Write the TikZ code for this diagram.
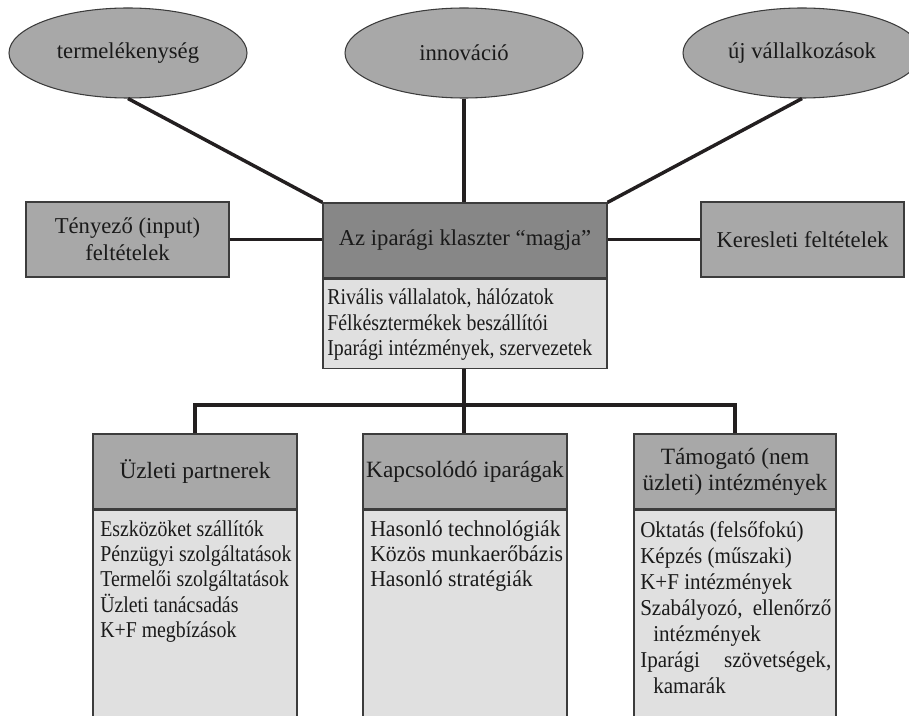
\documentclass[tikz,border=0pt]{standalone}
\usepackage{fontspec}
\setmainfont{Liberation Serif}
\newfontfamily\condA[FakeStretch=0.875]{Liberation Serif}
\newfontfamily\condB[FakeStretch=0.96]{Liberation Serif}
\newfontfamily\condC[FakeStretch=0.93]{Liberation Serif}
\usetikzlibrary{shapes.geometric}
\newlength\px
\setlength\px{0.75pt}
\definecolor{midgray}{HTML}{A8A8A8}
\definecolor{darkfill}{HTML}{878787}
\definecolor{lightfill}{HTML}{E0E0E0}
\definecolor{edge}{HTML}{3C3C3C}
\definecolor{ink}{HTML}{1A1A1A}
\definecolor{wirecol}{HTML}{231F20}
\tikzset{
  box/.style={draw=edge, line width=0.9pt, rectangle, inner sep=0pt, text=ink,
    font=\fontsize{17}{20}\selectfont, align=center},
  headbox/.style={box, fill=midgray, minimum width=204\px, minimum height=75\px,
    font=\fontsize{17.5}{19.5}\selectfont},
  bodybox/.style={box, fill=lightfill, minimum width=204\px, minimum height=240\px, anchor=north},
  bubble/.style={draw=edge, line width=0.8pt, ellipse, fill=midgray,
    minimum width=238\px, minimum height=90\px, inner sep=0pt, text=ink,
    font=\fontsize{17}{20}\selectfont},
  wire/.style={draw=wirecol, line width=2.6pt},
  list/.style={anchor=base west, inner sep=0pt, text=ink}
}
\begin{document}
\begin{tikzpicture}[x=0.75pt, y=-0.75pt]
\useasboundingbox (0,0) rectangle (909,716);
\clip (0,0) rectangle (909,716);

% outcomes
\node[bubble] (prod) at (128,53) {termelékenység};
\node[bubble] (inno) at (464,53) {innováció};
\node[bubble] (new)  at (802,53) {új vállalkozások};

% middle row
\node[box, fill=midgray, minimum width=203\px, minimum height=75\px] (factor) at (127.5,239.5)
  {Tényező (input)\\feltételek};
\node[box, fill=midgray, minimum width=203\px, minimum height=75\px] (demand) at (802.5,239.5)
  {Keresleti feltételek};
\node[box, fill=darkfill, minimum width=284\px, minimum height=75\px] (core) at (465,240.5)
  {Az iparági klaszter “magja”};
\node[box, fill=lightfill, minimum width=284\px, minimum height=89\px, anchor=north] (coreb) at (core.south) {};
\node[list] (coretxt) at (327,305) {\parbox[t]{275\px}{\condA\fontsize{17}{19}\selectfont
  Rivális vállalatok, hálózatok\\
  Félkésztermékek beszállítói\\
  Iparági intézmények, szervezetek}};

% bottom row
\node[headbox] (partners) at (195,471.5) {Üzleti partnerek};
\node[headbox] (related) at (465,471.5) {Kapcsolódó iparágak};
\node[headbox, minimum width=202\px] (support) at (735,471.5) {Támogató (nem\\üzleti) intézmények};
\node[bodybox] (partnersb) at (partners.south) {};
\node[bodybox] (relatedb) at (related.south) {};
\node[bodybox, minimum width=202\px] (supportb) at (support.south) {};

\node[list] (partnerstxt) at (100,536) {\parbox[t]{195\px}{\condA\fontsize{17}{19}\selectfont
  Eszközöket szállítók\\
  Pénzügyi szolgáltatások\\
  Termelői szolgáltatások\\
  Üzleti tanácsadás\\
  K+F megbízások}};
\node[list] (relatedtxt) at (370,536) {\parbox[t]{195\px}{\condB\fontsize{17}{19}\selectfont
  Hasonló technológiák\\
  Közös munkaerőbázis\\
  Hasonló stratégiák}};
\node[list] (supporttxt) at (640,537) {\parbox[t]{191\px}{\condC\fontsize{17}{19.5}\selectfont
  Oktatás (felsőfokú)\\
  Képzés (műszaki)\\
  K+F intézmények\\
  \makebox[191\px][s]{Szabályozó, ellenőrző}\\
  \hspace*{13\px}intézmények\\
  \makebox[191\px][s]{Iparági szövetségek,}\\
  \hspace*{13\px}kamarák}};

% connectors
\coordinate (hub) at (464,405);
\draw[wire] (prod.south) -- (core.north west);
\draw[wire] (inno.south) -- (inno.south |- core.north);
\draw[wire] (new.south) -- (core.north east);
\draw[wire] (factor.east) -- (factor.east -| core.west);
\draw[wire] (demand.west -| core.east) -- (demand.west);
\draw[wire] (coreb.south -| hub) -- (hub);
\draw[wire] (hub) -| (partners.north);
\draw[wire] (hub) -- (hub |- related.north);
\draw[wire] (hub) -| (support.north);
\end{tikzpicture}
\end{document}
